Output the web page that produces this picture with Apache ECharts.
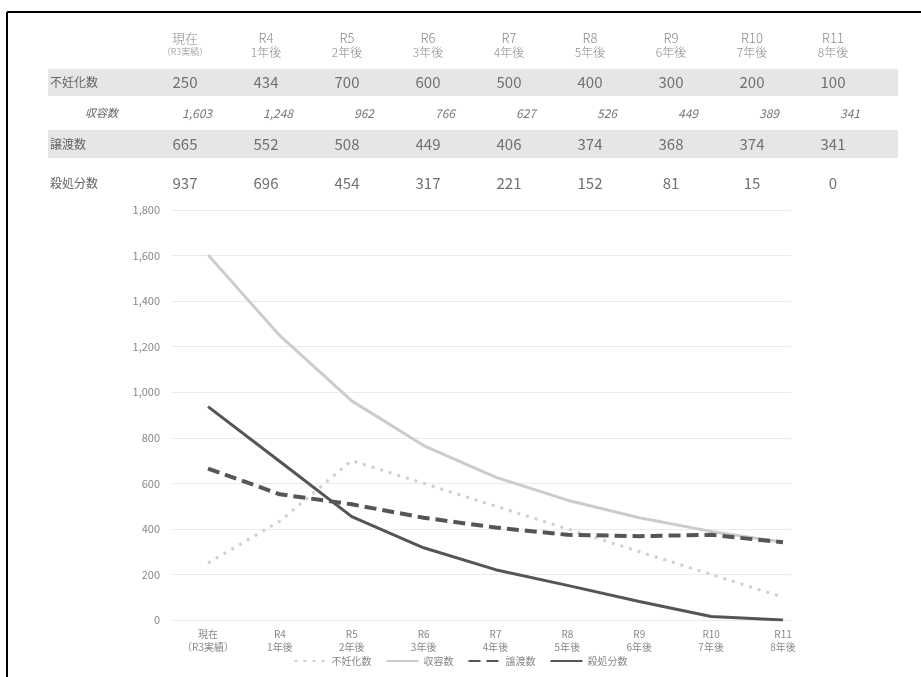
<!DOCTYPE html>
<html><head><meta charset="utf-8">
<script src="https://cdn.jsdelivr.net/npm/echarts@6/dist/echarts.min.js"></script>
<style>html,body{margin:0;padding:0;background:#fff;}#c{width:921px;height:677px;}</style>
</head><body><div id="c"></div>
<script>
var headTop = ['現在','R4','R5','R6','R7','R8','R9','R10','R11'];
var headBottom = ['（R3実績）','1年後','2年後','3年後','4年後','5年後','6年後','7年後','8年後'];
var categories = ['現在\n（R3実績）','R4\n1年後','R5\n2年後','R6\n3年後','R7\n4年後','R8\n5年後','R9\n6年後','R10\n7年後','R11\n8年後'];
var seriesNames = ['不妊化数','収容数','譲渡数','殺処分数'];
var sterilized = [250,434,700,600,500,400,300,200,100];
var intake = [1603,1248,962,766,627,526,449,389,341];
var adopted = [665,552,508,449,406,374,368,374,341];
var euthanized = [937,696,454,317,221,152,81,15,0];
var yTicks = [0,200,400,600,800,1000,1200,1400,1600,1800];

var font = '"Noto Sans CJK JP","Noto Sans",sans-serif';
function fmt(v){return v.toLocaleString('en-US');}

var colX0 = 185, colStep = 81;
var g = [];
g.push({type:'line',shape:{x1:7,y1:12,x2:921,y2:12},style:{stroke:'#000',lineWidth:2}});
g.push({type:'line',shape:{x1:7,y1:12,x2:7,y2:677},style:{stroke:'#000',lineWidth:2}});
g.push({type:'rect',shape:{x:48,y:69,width:850,height:27},style:{fill:'#e6e6e6'}});
g.push({type:'rect',shape:{x:48,y:130,width:850,height:28},style:{fill:'#e6e6e6'}});
var rowY = [82, 113, 144, 183];
g.push({type:'text',x:50,y:rowY[0],style:{text:seriesNames[0],font:'12px '+font,fill:'#666',verticalAlign:'middle'}});
g.push({type:'text',x:118,y:rowY[1],style:{text:seriesNames[1],font:'italic 11px '+font,fill:'#666',align:'right',verticalAlign:'middle'}});
g.push({type:'text',x:50,y:rowY[2],style:{text:seriesNames[2],font:'12px '+font,fill:'#666',verticalAlign:'middle'}});
g.push({type:'text',x:50,y:rowY[3],style:{text:seriesNames[3],font:'12px '+font,fill:'#666',verticalAlign:'middle'}});
var rows = [sterilized, intake, adopted, euthanized];
for (var i=0;i<headTop.length;i++){
  var cx = colX0 + colStep*i;
  g.push({type:'text',x:cx,y:38,style:{text:headTop[i],font:'300 13px '+font,fill:'#888',align:'center',verticalAlign:'middle'}});
  g.push({type:'text',x:cx,y:52,style:{text:headBottom[i],font:(i===0?'300 9px ':'300 12px ')+font,fill:'#888',align:'center',verticalAlign:'middle'}});
  for (var r=0;r<4;r++){
    if (r===1){
      g.push({type:'text',x:cx+27,y:rowY[r],style:{text:fmt(rows[r][i]),font:'italic 12px '+font,fill:'#777',align:'right',verticalAlign:'middle'}});
    } else {
      g.push({type:'text',x:cx,y:rowY[r],style:{text:fmt(rows[r][i]),font:'15px '+font,fill:'#707070',align:'center',verticalAlign:'middle'}});
    }
  }
}

var chart = echarts.init(document.getElementById('c'));
chart.setOption({
  backgroundColor:'#fff',
  animation:false,
  graphic:g,
  grid:[{left:208,right:138,top:210,bottom:57},{left:172,right:130,top:210,bottom:57}],
  legend:{bottom:6,left:'center',itemWidth:32,itemHeight:10,itemGap:14,
    itemStyle:{opacity:0},
    textStyle:{color:'#888',fontSize:10,fontFamily:font},
    data:seriesNames},
  xAxis:[
    {type:'category',gridIndex:0,data:categories,boundaryGap:false,
     axisLine:{show:false},axisTick:{show:false},
     axisLabel:{color:'#888',fontSize:10,fontFamily:font,lineHeight:13,margin:8}},
    {type:'value',gridIndex:1,min:0,max:1,show:false}
  ],
  yAxis:[
    {type:'value',gridIndex:0,min:yTicks[0],max:yTicks[yTicks.length-1],interval:200,show:false,splitLine:{show:false}},
    {type:'value',gridIndex:1,min:yTicks[0],max:yTicks[yTicks.length-1],interval:200,
     axisLine:{show:false},axisTick:{show:false},
     splitLine:{lineStyle:{color:'#ebebeb'}},
     axisLabel:{color:'#888',fontSize:11,fontFamily:font,margin:12,formatter:function(v){return fmt(v);}}}
  ],
  series:[
    {name:seriesNames[0],type:'line',data:sterilized,symbol:'none',lineStyle:{color:'#cfcfcf',width:3,type:[3,6]},itemStyle:{color:'#cfcfcf'},z:2},
    {name:seriesNames[1],type:'line',data:intake,symbol:'none',lineStyle:{color:'#cccccc',width:3},itemStyle:{color:'#cccccc'},z:2},
    {name:seriesNames[2],type:'line',data:adopted,symbol:'none',lineStyle:{color:'#555555',width:4,type:[12,6]},itemStyle:{color:'#555555'},z:3},
    {name:seriesNames[3],type:'line',data:euthanized,symbol:'none',lineStyle:{color:'#555555',width:3},itemStyle:{color:'#555555'},z:3}
  ]
});
</script></body></html>
